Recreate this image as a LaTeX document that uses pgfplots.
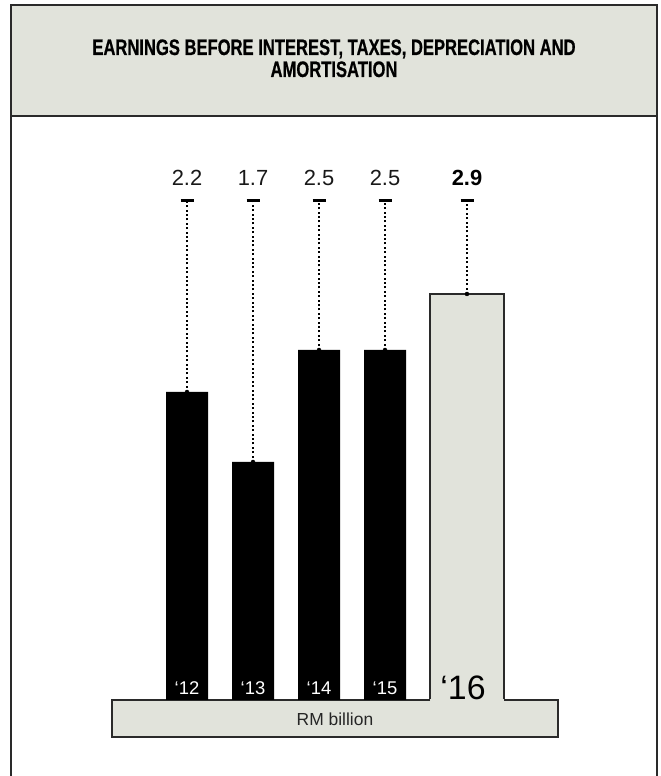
\documentclass[border=0pt]{standalone}
\usepackage{pgfplots}
\pgfplotsset{compat=1.18}
\usepackage{pgfplotstable}
\usepackage{fontspec}
\setmainfont{Liberation Sans}
\newfontfamily\headfont{Liberation Sans}[FakeStretch=0.74, FakeBold=0.6]

\definecolor{panel}{HTML}{E1E3DB}
\definecolor{rule}{HTML}{2A2A2A}

% EBITDA, RM billion
\pgfplotstableread{
x v yr
0 2.2 12
1 1.7 13
2 2.5 14
3 2.5 15
}\past
\pgfplotstableread{
x v yr
4.24242 2.9 16
}\current

\begin{document}
\begin{tikzpicture}[x=1bp,y=1bp]
\path[use as bounding box] (0,0) rectangle (661,776);
\fill[white] (0,0) rectangle (661,776);
% header panel and frame
\filldraw[fill=panel, draw=rule, line width=2bp] (11,771) rectangle (657,660);
\draw[rule, line width=2bp] (11,660) -- (11,-3) (657,660) -- (657,-3);
\node[font=\headfont\bfseries\fontsize{22.5}{23}\selectfont, anchor=base, inner sep=0pt]
  at (334,721) {EARNINGS BEFORE INTEREST, TAXES, DEPRECIATION AND};
\node[font=\headfont\bfseries\fontsize{22.5}{23}\selectfont, anchor=base, inner sep=0pt]
  at (334,699) {AMORTISATION};

\begin{axis}[
  at={(0,0)}, anchor=south west,
  scale only axis, width=661bp, height=776bp,
  xmin=-2.83333, xmax=7.18182, ymin=-0.542857, ymax=5,
  axis lines=none, clip=false,
]
% current year bar
\addplot[ybar, bar width=74bp, fill=panel, draw=rule, line width=1.5bp]
  table[x=x, y=v]{\current};
% base plate
\fill[panel] (axis cs:-1.13636,0.007) rectangle (axis cs:5.62121,-0.26429);
\draw[rule, line width=1.5bp] (axis cs:3.68182,0) -- (axis cs:-1.13636,0)
  -- (axis cs:-1.13636,-0.26429) -- (axis cs:5.62121,-0.26429)
  -- (axis cs:5.62121,0) -- (axis cs:4.80303,0);
\node[anchor=base, font=\fontsize{17.5}{18}\selectfont, text=black!85]
  at (axis cs:2.2424,-0.1786) {RM billion};
% previous years
\addplot[ybar, bar width=42bp, fill=black, draw=none]
  table[x=x, y=v]{\past};

% dotted leaders up to the value labels
\pgfplotsset{leader/.style={only marks, mark=none,
  error bars/.cd, y dir=plus, y explicit,
  error bar style={black, line width=2bp, dash pattern=on 2bp off 2.4bp},
  error mark options={black, solid, rotate=90, line width=3.2bp, mark size=6.5bp}}}
\addplot[leader] table[x=x, y=v, y error expr=3.567-\thisrow{v}]{\past};
\addplot[leader] table[x=x, y=v, y error expr=3.567-\thisrow{v}]{\current};

% value labels
\addplot[only marks, mark=none, point meta=explicit symbolic, nodes near coords,
  every node near coord/.append style={anchor=base, inner sep=0pt,
    font=\fontsize{22}{22}\selectfont, text=black!90}]
  table[x=x, y expr=3.675, meta=v]{\past};
\addplot[only marks, mark=none, point meta=explicit symbolic, nodes near coords,
  every node near coord/.append style={anchor=base, inner sep=0pt,
    font=\bfseries\fontsize{22}{22}\selectfont, text=black}]
  table[x=x, y expr=3.675, meta=v]{\current};

% year labels
\addplot[only marks, mark=none, point meta=explicit symbolic,
  nodes near coords={‘\pgfplotspointmeta},
  every node near coord/.append style={anchor=base, inner sep=0pt,
    font=\fontsize{18.5}{18}\selectfont, text=white}]
  table[x=x, y expr=0.0357, meta=yr]{\past};
\addplot[only marks, mark=none, point meta=explicit symbolic,
  nodes near coords={‘\pgfplotspointmeta},
  every node near coord/.append style={anchor=base, inner sep=0pt,
    font=\fontsize{34}{34}\selectfont, text=black}]
  table[x expr=\thisrow{x}-0.06, y expr=0.0, meta=yr]{\current};
\end{axis}
\end{tikzpicture}
\end{document}
